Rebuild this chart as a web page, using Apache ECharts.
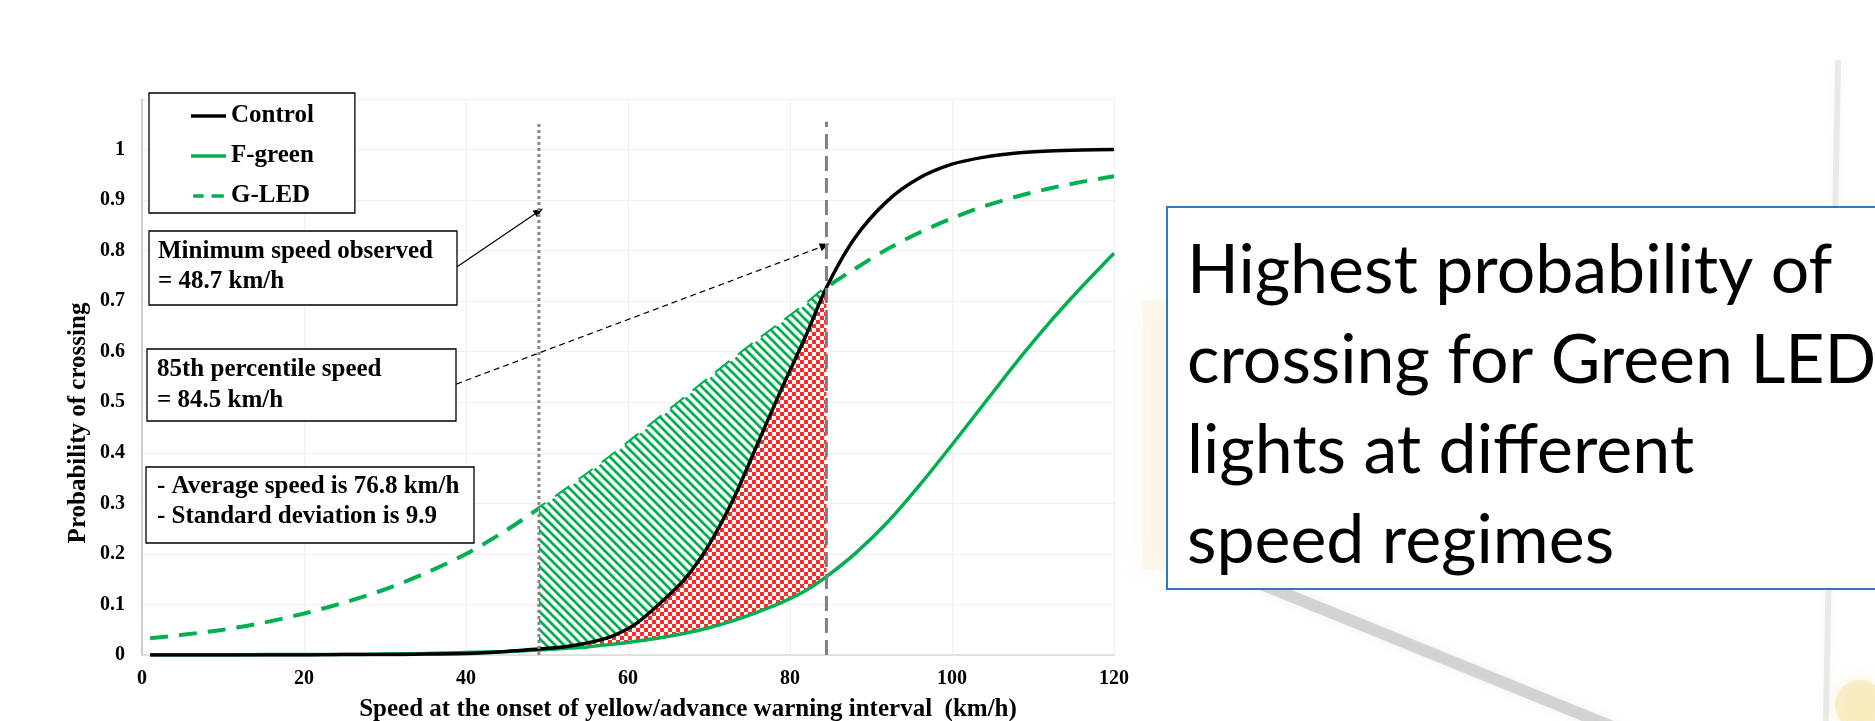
<!DOCTYPE html>
<html>
<head>
<meta charset="utf-8">
<script src="https://cdn.jsdelivr.net/npm/echarts@6/dist/echarts.min.js"></script>
<style>
html,body{margin:0;padding:0;background:#fff;}
#c{width:1875px;height:721px;}
</style>
</head>
<body>
<div id="c"></div>
<script>
// ---- data ----
const xs      = [1,5,10,15,20,25,30,35,40,45,49,52,55,58,61,64,67,70,73,76,79,82,84.5,88,92,96,100,104,108,112,116,120];
const control = [0.000,0.000,0.000,0.000,0.000,0.001,0.001,0.002,0.003,0.007,0.012,0.016,0.024,0.037,0.062,0.103,0.150,0.218,0.308,0.418,0.528,0.633,0.727,0.825,0.898,0.944,0.971,0.985,0.993,0.997,0.999,1.000];
const fGreen  = [0.000,0.000,0.000,0.001,0.001,0.001,0.002,0.003,0.005,0.007,0.010,0.013,0.016,0.021,0.027,0.034,0.043,0.054,0.068,0.085,0.104,0.128,0.155,0.200,0.262,0.336,0.416,0.498,0.580,0.657,0.728,0.795];
const gLed    = [0.033,0.040,0.050,0.064,0.082,0.104,0.130,0.162,0.200,0.247,0.290,0.323,0.358,0.394,0.432,0.470,0.508,0.547,0.585,0.622,0.658,0.694,0.727,0.764,0.803,0.836,0.864,0.888,0.907,0.923,0.936,0.947];
const seriesNames = ['Control','F-green','G-LED'];
const minSpeedX = 49;      // dotted reference line (minimum speed)
const pct85X = 84.5;       // dashed reference line (85th percentile)
const refTop = 1.055;
const arrowMin = [[38.9, 0.768], [49.0, 0.878]];
const arrow85  = [[38.8, 0.536], [84.3, 0.81]];
const noteMin = ['Minimum speed observed', '= 48.7 km/h'];
const note85  = ['85th percentile speed', '= 84.5 km/h'];
const noteAvg = ['- Average speed is 76.8 km/h', '- Standard deviation is 9.9'];
const sideText = ['Highest probability of', 'crossing for Green LED', 'lights at different', 'speed regimes'];
const xAxisTitle = 'Speed at the onset of yellow/advance warning interval  (km/h)';
const yAxisTitle = 'Probability of crossing';

// ---- patterns ----
function stripeCanvas(){
  const s = 9;
  const c = document.createElement('canvas'); c.width = s; c.height = s;
  const g = c.getContext('2d');
  g.fillStyle = '#ffffff'; g.fillRect(0,0,s,s);
  g.strokeStyle = '#00B050'; g.lineWidth = 2.7;
  g.beginPath();
  [-s,0,s].forEach(k => { g.moveTo(k-1,-1); g.lineTo(k+s+1,s+1); });
  g.stroke();
  return c;
}
function checkerCanvas(){
  const c = document.createElement('canvas'); c.width = 8; c.height = 8;
  const g = c.getContext('2d');
  g.fillStyle = '#ffffff'; g.fillRect(0,0,8,8);
  g.fillStyle = '#FF2A2A'; g.fillRect(0,0,4,4); g.fillRect(4,4,4,4);
  return c;
}
const stripePattern = {image: stripeCanvas(), repeat: 'repeat'};
const checkerPattern = {image: checkerCanvas(), repeat: 'repeat'};

const i0 = xs.indexOf(minSpeedX), i1 = xs.indexOf(pct85X);
function regionRenderer(upper, lower, fill){
  return function(params, api){
    const pts = [];
    for (let i = i0; i <= i1; i++) pts.push(api.coord([xs[i], upper[i]]));
    for (let i = i1; i >= i0; i--) pts.push(api.coord([xs[i], lower[i]]));
    return {type:'polygon', shape:{points: pts}, style:{fill: fill, stroke: null}};
  };
}

const serif = 'Liberation Serif';
const zip = arr => xs.map((x,i) => [x, arr[i]]);

function noteBox(rect, lines, textX, textY, lh){
  return {type:'group', children:[
    {type:'rect', z:100, shape:{x:rect[0], y:rect[1], width:rect[2], height:rect[3]},
     style:{fill:'#fff', stroke:'#000', lineWidth:1.3}},
    {type:'text', z:101, x:textX, y:textY,
     style:{text: lines.join('\n'), fontFamily: serif, fontWeight:'bold', fontSize:25,
            lineHeight: lh, fill:'#000', align:'left', verticalAlign:'top'}}
  ]};
}

const chart = echarts.init(document.getElementById('c'), null, {renderer:'canvas'});
chart.setOption({
  animation: false,
  backgroundColor: '#ffffff',
  grid: {left: 142, right: 761, top: 99, bottom: 66, containLabel: false},
  xAxis: {
    type:'value', min:0, max:120, interval:20,
    axisLine:{show:true, lineStyle:{color:'#D9D9D9', width:1.5}},
    axisTick:{show:false},
    axisLabel:{margin:14, fontFamily:serif, fontWeight:'bold', fontSize:20, color:'#000'},
    splitLine:{show:true, lineStyle:{color:'#EFEFEF', width:1}}
  },
  yAxis: {
    type:'value', min:0, max:1.1, interval:0.1,
    axisLine:{show:true, lineStyle:{color:'#BFBFBF', width:1.5}},
    axisTick:{show:false},
    axisLabel:{margin:17, fontFamily:serif, fontWeight:'bold', fontSize:20, color:'#000',
      formatter: v => (v > 1.05 ? '' : String(Math.round(v*10)/10))},
    splitLine:{show:true, lineStyle:{color:'#EFEFEF', width:1}}
  },
  legend: {
    data: [
      {name: seriesNames[0], icon:'rect'},
      {name: seriesNames[1], icon:'rect'},
      {name: seriesNames[2], icon:'path://M0,0h12v4h-12z M21,0h14v4h-14z'}
    ],
    orient:'vertical', left:149, top:93, padding:[10,41,4,42],
    itemWidth:35, itemHeight:3.5, itemGap:14,
    borderColor:'#000', borderWidth:1.3, backgroundColor:'#fff',
    selectedMode:false, z: 100,
    textStyle:{fontFamily:serif, fontWeight:'bold', fontSize:25, color:'#000', lineHeight:26}
  },
  series: [
    {name: seriesNames[2], type:'line', data: zip(gLed), symbol:'none', smooth:0.3, z:2,
     lineStyle:{color:'#00B050', width:4, type:[18,11]}, itemStyle:{color:'#00B050'}},
    {type:'custom', data:[[minSpeedX, 0]], encode:{x:0, y:1}, z:3, silent:true,
     renderItem: regionRenderer(gLed, control, stripePattern)},
    {type:'custom', data:[[minSpeedX, 0]], encode:{x:0, y:1}, z:3, silent:true,
     renderItem: regionRenderer(control, fGreen, checkerPattern)},
    {type:'line', data:[[minSpeedX, 0],[minSpeedX, refTop]], symbol:'none', z:6, silent:true,
     lineStyle:{color:'#888888', width:3, type:[3,3]},
     markLine:{silent:true, symbol:['none','triangle'], symbolSize:[8,10], label:{show:false},
       lineStyle:{color:'#000', width:1.2, type:'solid'},
       data:[[{coord: arrowMin[0]}, {coord: arrowMin[1]}]]}},
    {type:'line', data:[[pct85X, 0],[pct85X, refTop]], symbol:'none', z:6, silent:true,
     lineStyle:{color:'#808080', width:3, type:[15,7]},
     markLine:{silent:true, symbol:['none','triangle'], symbolSize:[8,10], label:{show:false},
       lineStyle:{color:'#000', width:1.2, type:[6,4]},
       data:[[{coord: arrow85[0]}, {coord: arrow85[1]}]]}},
    {name: seriesNames[1], type:'line', data: zip(fGreen), symbol:'none', smooth:0.3, z:4,
     lineStyle:{color:'#00B050', width:3.5}, itemStyle:{color:'#00B050'}},
    {name: seriesNames[0], type:'line', data: zip(control), symbol:'none', smooth:0.3, z:5,
     lineStyle:{color:'#000000', width:3.5}, itemStyle:{color:'#000000'}}
  ],
  graphic: [
    // faint background photo hints on the right
    {type:'rect', z:0, shape:{x:1142, y:300, width:26, height:270},
     style:{fill:'rgba(248,238,205,0.35)', shadowBlur:25, shadowColor:'rgba(240,228,190,0.6)'}},
    {type:'line', z:0, shape:{x1:1180, y1:551, x2:1620, y2:730},
     style:{stroke:'rgba(150,150,150,0.35)', lineWidth:12, shadowBlur:10, shadowColor:'rgba(150,150,150,0.4)'}},
    {type:'line', z:0, shape:{x1:1838, y1:60, x2:1826, y2:721},
     style:{stroke:'rgba(170,170,170,0.22)', lineWidth:6, shadowBlur:8, shadowColor:'rgba(170,170,170,0.3)'}},
    {type:'circle', z:0, shape:{cx:1860, cy:705, r:25},
     style:{fill:'rgba(245,225,160,0.5)', shadowBlur:20, shadowColor:'rgba(245,225,160,0.8)'}},
    // side text box
    {type:'rect', z:50, shape:{x:1167, y:207, width:760, height:382},
     style:{fill:'#fff', stroke:'#2E78C8', lineWidth:2}},
    {type:'text', z:51, x:1187, y:226,
     style:{text: sideText.join('\n'), fontFamily:'Lato', fontSize:68, lineHeight:90,
            fill:'#000', align:'left', verticalAlign:'top'}},
    // axis titles
    {type:'text', z:60, x:688, y:710,
     style:{text:xAxisTitle, fontFamily:serif, fontWeight:'bold', fontSize:25, fill:'#000',
            align:'center', verticalAlign:'middle'}},
    {type:'text', z:60, x:79, y:423, rotation:Math.PI/2,
     style:{text:yAxisTitle, fontFamily:serif, fontWeight:'bold', fontSize:25, fill:'#000',
            align:'center', verticalAlign:'middle'}},
    // annotation boxes
    noteBox([149, 231, 308, 74], noteMin, 158, 237, 30),
    noteBox([147, 349, 309, 72], note85, 157, 354, 31),
    noteBox([146, 467, 328, 76], noteAvg, 157, 472, 30)
  ]
});
</script>
</body>
</html>
